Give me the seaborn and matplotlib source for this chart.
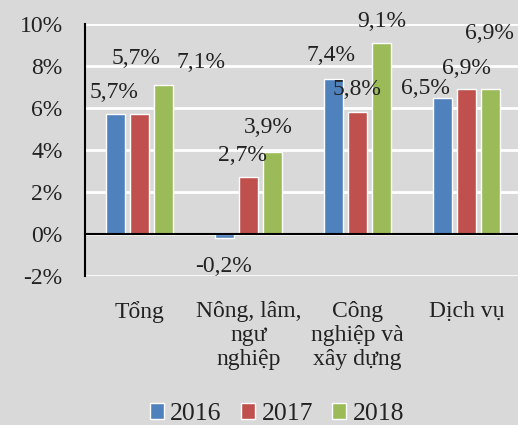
import pandas as pd
import seaborn as sns
import matplotlib.pyplot as plt

# Data
categories = ['Tổng', 'Nông, lâm,\nngư\nnghiệp', 'Công\nnghiệp và\nxây dựng', 'Dịch vụ']
years = ['2016', '2017', '2018']
growth_2016 = [5.7, -0.2, 7.4, 6.5]
growth_2017 = [5.7, 2.7, 5.8, 6.9]
growth_2018 = [7.1, 3.9, 9.1, 6.9]
y_ticks = [-2, 0, 2, 4, 6, 8, 10]
y_tick_labels = ['-2%', '0%', '2%', '4%', '6%', '8%', '10%']

# Manually placed label positions (category units, %), as in the original Excel chart
label_pos = {
    '2016': [(-0.23, 6.76), (0.77, -1.57), (1.76, 8.52), (2.62, 6.95)],
    '2017': [(-0.03, 8.38), (0.94, 3.76), (1.99, 6.86), (3.00, 7.90)],
    '2018': [(0.56, 8.19), (1.18, 5.05), (2.22, 10.14), (3.21, 9.57)],
}

palette = {'2016': '#4f81bd', '2017': '#c0504d', '2018': '#9bbb59'}
bg = '#d9d9d9'
fs = 17

df = pd.DataFrame({
    'category': categories * 3,
    'year': [y for y in years for _ in categories],
    'value': growth_2016 + growth_2017 + growth_2018,
})

sns.set_style('whitegrid')
plt.rcParams['font.family'] = ['Liberation Serif', 'DejaVu Serif']

fig = plt.figure(figsize=(5.18, 4.25), dpi=100, facecolor=bg)
ax = fig.add_axes([0.164, 0.3506, 0.836, 0.5929])
ax.set_facecolor(bg)

sns.barplot(data=df, x='category', y='value', hue='year', palette=palette,
            width=0.66, gap=0.2, saturation=1, ax=ax, legend=True)

ax.set_xlim(-0.5, 3.47)
ax.set_ylim(-2, 10)
ax.set_yticks(y_ticks)
ax.set_yticklabels(y_tick_labels, fontsize=fs, color='#222222')
ax.grid(axis='y', color='white', lw=2)
ax.grid(axis='x', visible=False)
ax.set_axisbelow(True)

for s in ['top', 'right']:
    ax.spines[s].set_visible(False)
ax.spines['left'].set_color('black')
ax.spines['left'].set_linewidth(1.5)
ax.spines['bottom'].set_position(('data', 0))
ax.spines['bottom'].set_color('black')
ax.spines['bottom'].set_linewidth(1.5)
ax.tick_params(axis='x', direction='out', length=5, width=1.2, color='black',
               pad=43, labelsize=fs, labelcolor='#222222')
ax.tick_params(axis='y', length=0, pad=16)
for t in ax.get_xticklabels():
    t.set_linespacing(1.2)
    t.set_verticalalignment('top')

ax.set_xlabel('')
ax.set_ylabel('')

# Data labels
vals = {'2016': growth_2016, '2017': growth_2017, '2018': growth_2018}
for yr in years:
    for (x, y), v in zip(label_pos[yr], vals[yr]):
        ax.text(x, y, f'{v:.1f}%'.replace('.', ','), ha='center', va='center',
                fontsize=fs, color='#222222', clip_on=False)

leg = ax.legend(loc='center', ncol=3, frameon=False, fontsize=18.5,
                handlelength=0.55, handleheight=0.55,
                handletextpad=0.25, columnspacing=0.75)
leg.set_bbox_to_anchor((277 / 518, 1 - 414 / 425), transform=fig.transFigure)
for t in leg.get_texts():
    t.set_color('#222222')

fig.savefig('out.png', dpi=100, facecolor=bg)
